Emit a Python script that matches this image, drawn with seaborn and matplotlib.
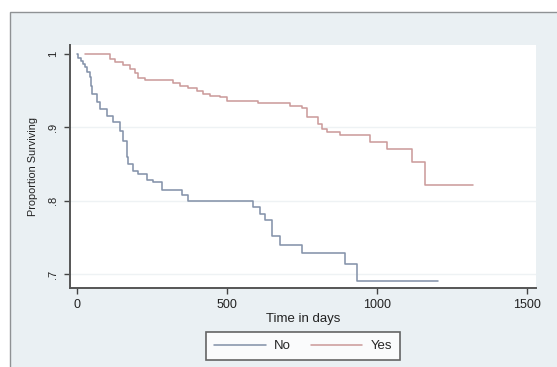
import matplotlib
matplotlib.use("Agg")
import matplotlib.pyplot as plt
from matplotlib.patches import Rectangle
import pandas as pd
import seaborn as sns

# ---- data ----
groups = ["No", "Yes"]
no_time = [0, 5, 12, 19, 27, 35, 43, 47, 49, 66, 77, 99, 121, 143, 154, 166, 171,
           188, 204, 234, 254, 282, 349, 371, 588, 610, 627, 649, 677, 749, 893,
           934, 1204]
no_surv = [1.0, 0.995, 0.990, 0.986, 0.982, 0.975, 0.968, 0.956, 0.945, 0.934,
           0.925, 0.916, 0.907, 0.895, 0.881, 0.859, 0.850, 0.841, 0.837, 0.828,
           0.825, 0.814, 0.808, 0.800, 0.791, 0.782, 0.773, 0.752, 0.740, 0.728,
           0.714, 0.691, 0.691]
yes_time = [27, 110, 127, 154, 177, 193, 204, 227, 321, 343, 371, 399, 421, 443,
            477, 499, 604, 710, 749, 766, 804, 816, 832, 877, 977, 1032, 1116,
            1160, 1321]
yes_surv = [1.0, 0.993, 0.989, 0.985, 0.980, 0.974, 0.967, 0.964, 0.960, 0.957,
            0.954, 0.950, 0.946, 0.943, 0.941, 0.936, 0.933, 0.929, 0.926, 0.914,
            0.905, 0.898, 0.893, 0.889, 0.880, 0.870, 0.853, 0.822, 0.822]
x_ticks = [0, 500, 1000, 1500]
y_ticks = [0.7, 0.8, 0.9, 1.0]
y_ticklabels = [".7", ".8", ".9", "1"]

df = pd.concat([
    pd.DataFrame({"time": no_time, "surv": no_surv, "group": groups[0]}),
    pd.DataFrame({"time": yes_time, "surv": yes_surv, "group": groups[1]}),
], ignore_index=True)

sns.set_theme(style="white")
plt.rcParams["font.family"] = ["Liberation Sans", "DejaVu Sans"]

W, H = 557, 367
fig = plt.figure(figsize=(W / 100, H / 100), dpi=100)
fig.patch.set_facecolor("white")
# outer graph region (Stata-like frame)
frame = Rectangle((10 / W, -0.01), 1.0, 1 - 12 / H + 0.01,
                  transform=fig.transFigure, facecolor="#eaf0f3",
                  edgecolor="#8f9294", linewidth=1.0, zorder=-10)
fig.patches.append(frame)

ax = fig.add_axes([70 / W, 1 - 288.3 / H, (536 - 70) / W, (288.3 - 45) / H])
ax.set_zorder(5)
ax.set_facecolor("white")

palette = {"No": "#8593aa", "Yes": "#cc9c9c"}
sns.lineplot(data=df, x="time", y="surv", hue="group", palette=palette,
             estimator=None, drawstyle="steps-post", linewidth=1.15, ax=ax)

ax.set_xlim(-23, 1530)
ax.set_ylim(0.6805, 1.0123)
ax.set_xticks(x_ticks)
ax.set_xticklabels([str(t) for t in x_ticks])
ax.set_yticks(y_ticks)
ax.set_yticklabels(y_ticklabels, rotation=90, va="center")
for y in y_ticks[:-1]:
    ax.axhline(y, color="#eef2f4", linewidth=1.0, zorder=0)

ax.tick_params(axis="both", direction="out", length=4, width=1.0,
               colors="#444444", bottom=True, left=True)
ax.tick_params(axis="x", labelsize=9, pad=3.5)
ax.tick_params(axis="y", labelsize=8, pad=4.5)
for lab in ax.get_xticklabels() + ax.get_yticklabels():
    lab.set_color("#222222")
for s in ["top", "right"]:
    ax.spines[s].set_visible(False)
for s in ["left", "bottom"]:
    ax.spines[s].set_color("#555555")
    ax.spines[s].set_linewidth(1.4)

ax.set_xlabel("Time in days", fontsize=9.5, color="#222222", labelpad=2)
ax.set_ylabel("Proportion Surviving", fontsize=7.8, color="#222222", labelpad=7)

handles, labels = ax.get_legend_handles_labels()
ax.get_legend().remove()
leg = fig.legend(handles, labels, loc="center", ncol=2,
                 bbox_to_anchor=(303 / W, 1 - 346 / H),
                 frameon=True, fancybox=False, fontsize=9.5,
                 handlelength=3.9, handletextpad=0.6, columnspacing=1.55,
                 borderpad=0.62)
leg.set_zorder(6)
leg.get_frame().set_edgecolor("#404040")
leg.get_frame().set_linewidth(1.2)
leg.get_frame().set_facecolor("white")

fig.savefig("out.png", dpi=100)
